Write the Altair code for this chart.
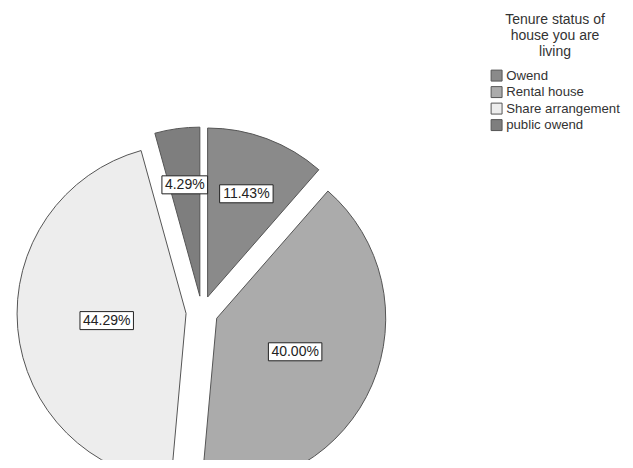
import altair as alt
import pandas as pd

categories = ["Owend", "Rental house", "Share arrangement", "public owend"]
percentages = [11.43, 40.00, 44.29, 4.29]
colors = ["#8a8a8a", "#ababab", "#ededed", "#7e7e7e"]
legend_title = ["Tenure status of", "house you are", "living"]

df = pd.DataFrame({
    "category": categories,
    "pct": percentages,
    "order": list(range(len(categories))),
})

# layout / style constants (pixels)
CX, CY, R, D = 194, 304, 169, 16
FS = 14
FONT = "Liberation Sans"

base = (
    alt.Chart(df)
    .transform_joinaggregate(total="sum(pct)")
    .transform_window(cum="sum(pct)", sort=[alt.SortField("order")], frame=[None, 0])
    .transform_calculate(t1="2*PI*datum.cum/datum.total")
    .transform_calculate(t0="2*PI*(datum.cum-datum.pct)/datum.total")
    .transform_calculate(mid="(datum.t0+datum.t1)/2")
    .transform_calculate(half="(datum.t1-datum.t0)/2")
    .transform_calculate(ox=f"{CX}+{D}*sin(datum.mid)")
    .transform_calculate(oy=f"{CY}-{D}*cos(datum.mid)")
    .transform_calculate(lr=f"2*{R}*sin(datum.half)/(3*datum.half)")
    .transform_calculate(label="format(datum.pct, '.2f') + '%'")
    .transform_calculate(lx="datum.ox + datum.lr*sin(datum.mid)")
    .transform_calculate(ly="datum.oy - datum.lr*cos(datum.mid)")
    .transform_calculate(tw=f"{FS}*(0.556*(length(datum.label)-2)+0.278+0.889)")
    .transform_calculate(bx0="datum.lx - datum.tw/2 - 3")
    .transform_calculate(bx1="datum.lx + datum.tw/2 + 3")
    .transform_calculate(by0="datum.ly - 9")
    .transform_calculate(by1="datum.ly + 9")
)

arcs = base.mark_arc(radius=R, stroke="#555555", strokeWidth=1).encode(
    theta=alt.Theta("t0:Q", scale=None, stack=None),
    theta2="t1:Q",
    x=alt.X("ox:Q", scale=None, axis=None),
    y=alt.Y("oy:Q", scale=None, axis=None),
    color=alt.Color(
        "category:N",
        scale=alt.Scale(domain=categories, range=colors),
        sort=categories,
        legend=alt.Legend(
            orient="none",
            legendX=482,
            legendY=5,
            title=legend_title,
            titleAlign="center",
            titleAnchor="middle",
            titleFont=FONT,
            titleFontSize=14,
            titleFontWeight="normal",
            titleColor="#333333",
            titleLineHeight=16,
            titlePadding=10,
            labelFont=FONT,
            labelFontSize=13.2,
            labelColor="#333333",
            labelOffset=3,
            symbolType="square",
            symbolSize=120,
            symbolStrokeColor="#555555",
            symbolStrokeWidth=1,
            symbolOpacity=1,
            rowPadding=0.5,
        ),
    ),
)

boxes = base.mark_rect(fill="white", stroke="#222222", strokeWidth=1).encode(
    x=alt.X("bx0:Q", scale=None, axis=None),
    x2="bx1:Q",
    y=alt.Y("by0:Q", scale=None, axis=None),
    y2="by1:Q",
)

texts = base.mark_text(font=FONT, fontSize=FS, color="#222222").encode(
    x=alt.X("lx:Q", scale=None, axis=None),
    y=alt.Y("ly:Q", scale=None, axis=None),
    text="label:N",
)

chart = (
    alt.layer(arcs, boxes, texts)
    .properties(
        width=617,
        height=452,
        autosize=alt.AutoSizeParams(type="none"),
        padding=0,
        background="white",
    )
    .configure_view(stroke=None)
)

chart.save("out.html", embed_options={"renderer": "svg", "actions": False})
